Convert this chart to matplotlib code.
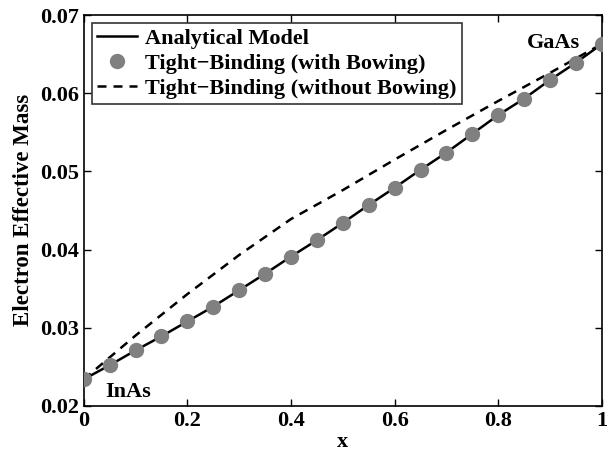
import numpy as np
import matplotlib
matplotlib.use('Agg')
import matplotlib.pyplot as plt

plt.rcParams['font.family'] = 'Liberation Serif'
plt.rcParams['font.weight'] = 'bold'

# composition x
x_tb = [0, 0.05, 0.1, 0.15, 0.2, 0.25, 0.3, 0.35, 0.4, 0.45, 0.5,
        0.55, 0.6, 0.65, 0.7, 0.75, 0.8, 0.85, 0.9, 0.95, 1.0]
# tight-binding with bowing
m_tb = [0.0234, 0.0252, 0.0271, 0.0289, 0.0308, 0.0327, 0.0348, 0.0369, 0.0391, 0.0412, 0.0434,
        0.0457, 0.0479, 0.0502, 0.0524, 0.0548, 0.0572, 0.0593, 0.0617, 0.0639, 0.0663]
# analytical model
x_an = x_tb
m_an = m_tb
# tight-binding without bowing
x_nb = [0, 0.1, 0.2, 0.3, 0.4, 0.5, 0.6, 0.7, 0.8, 0.9, 1.0]
m_nb = [0.0234, 0.0290, 0.0343, 0.0393, 0.0439, 0.0476, 0.0515, 0.0553, 0.0590, 0.0626, 0.0663]

fig = plt.figure(figsize=(6.16, 4.55), dpi=100)
ax = fig.add_axes([0.136, 0.108, 0.841, 0.859])

ax.plot(x_an, m_an, 'k-', lw=1.8, label='Analytical Model', zorder=2)
ax.plot(x_tb, m_tb, 'o', color='#808080', ms=10, mec='#808080',
        label='Tight\u2212Binding (with Bowing)', zorder=3)
ax.plot(x_nb, m_nb, 'k--', lw=1.8, dashes=(3.6, 2.8),
        label='Tight\u2212Binding (without Bowing)', zorder=2)

ax.text(0.042, 0.0218, 'InAs', fontsize=16, fontweight='bold', va='center')
ax.text(0.855, 0.0664, 'GaAs', fontsize=16, fontweight='bold', va='center')

ax.set_xlim(0, 1)
ax.set_ylim(0.02, 0.07)
ax.set_xticks([0, 0.2, 0.4, 0.6, 0.8, 1])
ax.set_xticklabels(['0', '0.2', '0.4', '0.6', '0.8', '1'])
ax.set_yticks([0.02, 0.03, 0.04, 0.05, 0.06, 0.07])
ax.tick_params(direction='in', top=True, right=True, labelsize=16, width=1, length=5)
for s in ax.spines.values():
    s.set_linewidth(1.2)
ax.set_xlabel('x', fontsize=16, fontweight='bold', labelpad=1)
ax.set_ylabel('Electron Effective Mass', fontsize=16.5, fontweight='bold', labelpad=4)

leg = ax.legend(loc='upper left', fontsize=16, fancybox=False, edgecolor='k',
                borderaxespad=0.35, handlelength=1.8, labelspacing=0.2,
                borderpad=0.25, handletextpad=0.35)
leg.get_frame().set_linewidth(1.2)

fig.savefig('out.png', dpi=100)
